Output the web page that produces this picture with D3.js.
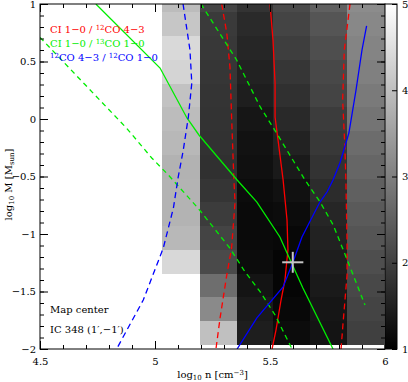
<!DOCTYPE html>
<html>
<head>
<meta charset="utf-8">
<script src="https://cdn.jsdelivr.net/npm/d3@7"></script>
<style>
  body { margin: 0; background: #fff; }
  text { font-family: "DejaVu Serif", serif; font-size: 10px; fill: #000; }
</style>
</head>
<body>
<div id="chart"></div>
<script>
// grid of the ratio map (log n columns, log M rows, top to bottom)
const logN = [5.113, 5.274, 5.435, 5.593, 5.754, 5.917];
const logM = [1.03, 0.823, 0.617, 0.41, 0.204, -0.003, -0.21, -0.416, -0.623, -0.829, -1.036, -1.242, -1.449, -1.655, -1.862];
const stepN = 0.161;
const stepM = 0.2065;

// ratio value per column, rows top to bottom
const ratioCols = [
  [3.95, 4.1, 4.4, 4.33, 4.04, 3.95, 3.89, 3.79, 3.81, 3.81, 3.89, 4.39, null, null, null],
  [2.07, 1.91, 1.88, 1.85, 1.82, 1.8, 1.78, 1.75, 1.83, 1.94, 2.07, 2.16, 2.73, 3.16, 4.01],
  [1.8, 1.66, 1.6, 1.53, 1.47, 1.35, 1.28, 1.25, 1.19, 1.16, 1.16, 1.19, 1.31, 1.41, 1.47],
  [2.16, 2.07, 1.97, 1.85, 1.75, 1.64, 1.53, 1.41, 1.27, 1.19, 1.13, 1.08, 1.08, 1.13, 1.19],
  [2.51, 2.33, 2.22, 2.13, 2.07, 1.94, 1.88, 1.8, 1.69, 1.6, 1.53, 1.47, 1.41, 1.35, 1.31],
  [3.2, 3.13, 3.07, 3.01, 2.91, 2.82, 2.69, 2.6, 2.51, 2.41, 2.33, 2.22, 2.13, 2.07, 2.0]
];

// contour lines [log n, log M]
const ciCo43Solid = [[5.5, 1.0], [5.513, 0.687], [5.522, 0.313], [5.522, 0.017], [5.535, -0.183], [5.557, -0.53], [5.574, -0.878], [5.578, -1.139], [5.565, -1.4], [5.548, -1.574], [5.526, -1.835], [5.509, -2.0]];
const ciCo43DashL = [[5.29, 1.0], [5.312, 0.748], [5.326, 0.452], [5.333, 0.017], [5.343, -0.53], [5.348, -0.722], [5.333, -1.122], [5.312, -1.357], [5.283, -1.73], [5.265, -2.0]];
const ciCo43DashR = [[5.848, 1.0], [5.823, 0.6], [5.816, 0.165], [5.826, -0.27], [5.83, -0.53], [5.835, -1.07], [5.835, -1.357], [5.817, -1.791], [5.809, -2.0]];
const ciCo13Solid = [[4.743, 1.0], [5.022, 0.443], [5.139, 0.009], [5.191, -0.139], [5.357, -0.53], [5.443, -0.722], [5.543, -1.026], [5.578, -1.183], [5.643, -1.47], [5.774, -2.0]];
const ciCo13DashL = [[4.5, 0.71], [4.877, -0.081], [4.986, -0.339], [5.058, -0.487], [5.188, -0.777], [5.326, -1.124], [5.391, -1.328], [5.457, -1.502], [5.522, -1.704], [5.596, -2.0]];
const ciCo13DashR = [[5.2, 1.0], [5.355, 0.513], [5.457, 0.107], [5.529, -0.124], [5.652, -0.53], [5.717, -0.719], [5.775, -0.922], [5.833, -1.211], [5.913, -1.617]];
const co43Solid = [[5.92, 0.809], [5.9, 0.6], [5.874, 0.252], [5.843, -0.122], [5.804, -0.383], [5.774, -0.53], [5.748, -0.635], [5.717, -0.722], [5.639, -1.026], [5.6, -1.243], [5.557, -1.461], [5.443, -1.73], [5.357, -2.0]];
const co43Dash = [[5.122, 1.0], [5.152, 0.6], [5.16, 0.313], [5.145, 0.017], [5.123, -0.27], [5.101, -0.504], [5.08, -0.774], [5.036, -1.122], [4.949, -1.574], [4.833, -2.0]];

// best fit with error bars
const bestFit = { n: 5.599, m: -1.246, dn: 0.046, dm: 0.091 };

const xTicks = [4.5, 5, 5.5, 6];
const yTicks = [1, 0.5, 0, -0.5, -1, -1.5, -2];
const barTicks = [1, 2, 3, 4, 5];

const width = 408, height = 382;
const box = { left: 40, right: 385, top: 4, bottom: 349 };

const svg = d3.select("#chart").append("svg")
  .attr("width", width)
  .attr("height", height);

const x = d3.scaleLinear().domain([4.5, 6]).range([box.left, box.right]);
const y = d3.scaleLinear().domain([-2, 1]).range([box.bottom, box.top]);
const gray = d3.scaleLinear().domain([1, 5]).range(["#000", "#fff"]);

const defs = svg.append("defs");
defs.append("clipPath").attr("id", "plot-clip")
  .append("rect")
  .attr("x", box.left).attr("y", box.top)
  .attr("width", box.right - box.left).attr("height", box.bottom - box.top);

const plot = svg.append("g").attr("clip-path", "url(#plot-clip)");

// ratio map
const cells = [];
ratioCols.forEach((col, i) => {
  col.forEach((v, j) => {
    if (v !== null) cells.push({ n: logN[i], m: logM[j], v: v });
  });
});

plot.selectAll("rect.cell")
  .data(cells)
  .enter()
  .append("rect")
  .attr("class", "cell")
  .attr("x", d => x(d.n - stepN / 2))
  .attr("y", d => y(d.m + stepM / 2))
  .attr("width", d => x(d.n + stepN / 2) - x(d.n - stepN / 2))
  .attr("height", d => y(d.m - stepM / 2) - y(d.m + stepM / 2))
  .attr("fill", d => gray(d.v))
  .attr("shape-rendering", "crispEdges");

// contours
const line = d3.line().x(d => x(d[0])).y(d => y(d[1]));
const curves = [
  { pts: ciCo43Solid, color: "#ff0000", dash: null },
  { pts: ciCo43DashL, color: "#ff0000", dash: "6,4" },
  { pts: ciCo43DashR, color: "#ff0000", dash: "6,4" },
  { pts: ciCo13Solid, color: "#00ee00", dash: null },
  { pts: ciCo13DashL, color: "#00ee00", dash: "5,4" },
  { pts: ciCo13DashR, color: "#00ee00", dash: "5,4" },
  { pts: co43Solid, color: "#0000ff", dash: null },
  { pts: co43Dash, color: "#0000ff", dash: "6,4" }
];

plot.selectAll("path.curve")
  .data(curves)
  .enter()
  .append("path")
  .attr("class", "curve")
  .attr("d", d => line(d.pts))
  .attr("fill", "none")
  .attr("stroke", d => d.color)
  .attr("stroke-width", 1.3)
  .attr("stroke-dasharray", d => d.dash);

// best fit cross
plot.append("line")
  .attr("x1", x(bestFit.n - bestFit.dn)).attr("x2", x(bestFit.n + bestFit.dn))
  .attr("y1", y(bestFit.m)).attr("y2", y(bestFit.m))
  .attr("stroke", "#c4c4c4").attr("stroke-width", 2);
plot.append("line")
  .attr("x1", x(bestFit.n)).attr("x2", x(bestFit.n))
  .attr("y1", y(bestFit.m - bestFit.dm)).attr("y2", y(bestFit.m + bestFit.dm))
  .attr("stroke", "#c4c4c4").attr("stroke-width", 2);

// axes
const minorX = d3.range(45, 61).map(d => d / 10);
const minorY = d3.range(-20, 11).map(d => d / 10);
const fmt = d3.format("~g");

function axisStyle(g) {
  g.select(".domain").remove();
  g.selectAll("line").attr("stroke", "#000");
  g.attr("font-size", null).attr("font-family", null);
}

svg.append("g").attr("transform", `translate(0,${box.bottom})`)
  .call(d3.axisBottom(x).tickValues(minorX).tickSize(-4).tickFormat(""))
  .call(axisStyle);
svg.append("g").attr("transform", `translate(0,${box.bottom})`)
  .call(d3.axisBottom(x).tickValues(xTicks).tickSize(-8).tickPadding(9).tickFormat(fmt))
  .call(axisStyle);
svg.append("g").attr("transform", `translate(0,${box.top})`)
  .call(d3.axisTop(x).tickValues(minorX).tickSize(-4).tickFormat(""))
  .call(axisStyle);
svg.append("g").attr("transform", `translate(0,${box.top})`)
  .call(d3.axisTop(x).tickValues(xTicks).tickSize(-8).tickFormat(""))
  .call(axisStyle);

svg.append("g").attr("transform", `translate(${box.left},0)`)
  .call(d3.axisLeft(y).tickValues(minorY).tickSize(-4).tickFormat(""))
  .call(axisStyle);
svg.append("g").attr("transform", `translate(${box.left},0)`)
  .call(d3.axisLeft(y).tickValues(yTicks).tickSize(-8).tickPadding(4).tickFormat(fmt))
  .call(axisStyle);
svg.append("g").attr("transform", `translate(${box.right},0)`)
  .call(d3.axisRight(y).tickValues(minorY).tickSize(-4).tickFormat(""))
  .call(axisStyle);
svg.append("g").attr("transform", `translate(${box.right},0)`)
  .call(d3.axisRight(y).tickValues(yTicks).tickSize(-8).tickFormat(""))
  .call(axisStyle);

// frame
svg.append("rect")
  .attr("x", box.left).attr("y", box.top)
  .attr("width", box.right - box.left).attr("height", box.bottom - box.top)
  .attr("fill", "none").attr("stroke", "#000").attr("stroke-width", 1);

// colour bar
const barLeft = box.right, barRight = 397;
const barY = d3.scaleLinear().domain([1, 5]).range([box.bottom, box.top]);
const grad = defs.append("linearGradient")
  .attr("id", "bar-grad")
  .attr("x1", 0).attr("x2", 0).attr("y1", 1).attr("y2", 0);
grad.append("stop").attr("offset", 0).attr("stop-color", gray(1));
grad.append("stop").attr("offset", 1).attr("stop-color", gray(5));

svg.append("rect")
  .attr("x", barLeft).attr("y", box.top)
  .attr("width", barRight - barLeft).attr("height", box.bottom - box.top)
  .attr("fill", "url(#bar-grad)")
  .attr("stroke", "#000").attr("stroke-width", 1);

svg.append("g").attr("transform", `translate(${barRight},0)`)
  .call(d3.axisRight(barY).tickValues(barTicks).tickSize(-5).tickPadding(5).tickFormat(fmt))
  .call(axisStyle);

// legend
const legend = [
  { color: "#ff0000", parts: ["CI 1\u22120 / ", "12", "CO 4\u22123"] },
  { color: "#00ee00", parts: ["CI 1\u22120 / ", "13", "CO 1\u22120"] },
  { color: "#0000ff", parts: ["", "12", "CO 4\u22123 / ", "12", "CO 1\u22120"] }
];
legend.forEach((l, i) => {
  const t = svg.append("text")
    .attr("x", 50).attr("y", 33 + i * 14)
    .style("fill", l.color);
  l.parts.forEach((p, k) => {
    if (p === "") return;
    const sup = k % 2 === 1;
    t.append("tspan")
      .attr("font-size", sup ? "7px" : "10px")
      .attr("baseline-shift", sup ? "45%" : null)
      .text(p);
  });
});

svg.append("text").attr("x", 50).attr("y", 313).text("Map center");
svg.append("text").attr("x", 50).attr("y", 333).text("IC 348 (1\u2032,\u22121\u2032)");

// axis titles
const xt = svg.append("text")
  .attr("x", (box.left + box.right) / 2).attr("y", 378)
  .attr("text-anchor", "middle");
xt.append("tspan").text("log");
xt.append("tspan").attr("font-size", "7px").attr("baseline-shift", "-30%").text("10");
xt.append("tspan").text(" n [cm");
xt.append("tspan").attr("font-size", "7px").attr("baseline-shift", "45%").text("\u22123");
xt.append("tspan").text("]");

const yt = svg.append("text")
  .attr("transform", `translate(12,${(box.top + box.bottom) / 2 + 8}) rotate(-90)`)
  .attr("text-anchor", "middle");
yt.append("tspan").text("log");
yt.append("tspan").attr("font-size", "7px").attr("baseline-shift", "-30%").text("10");
yt.append("tspan").text(" M [M");
yt.append("tspan").attr("font-size", "7px").attr("baseline-shift", "-30%").text("sun");
yt.append("tspan").text("]");
</script>
</body>
</html>
